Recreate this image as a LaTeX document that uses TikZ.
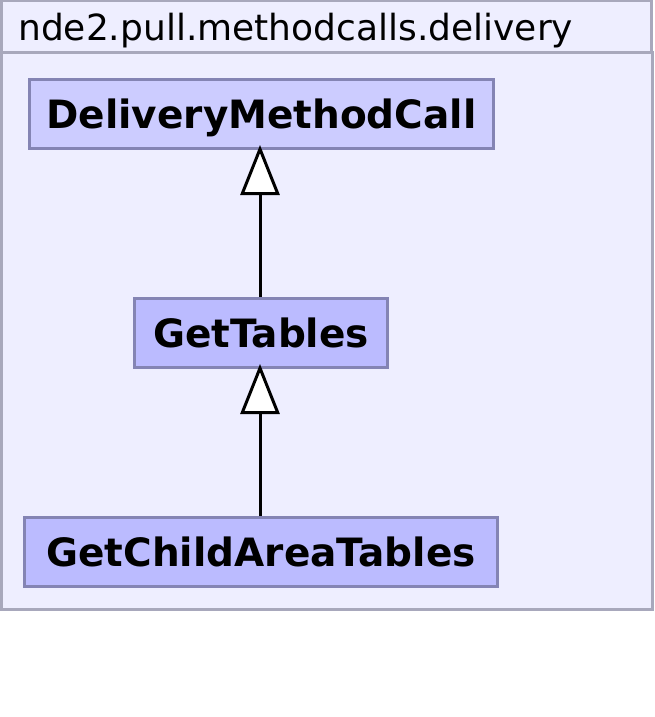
\documentclass[tikz,border=0pt]{standalone}
\usepackage{fontspec}
\setmainfont{DejaVu Sans}
\usetikzlibrary{arrows.meta}
\definecolor{pkgfill}{HTML}{EEEEFF}
\definecolor{pkgline}{HTML}{A8A8BC}
\definecolor{clsfill}{HTML}{BBBBFF}
\definecolor{absfill}{HTML}{CCCCFF}
\definecolor{clsline}{HTML}{8484B4}
\tikzset{
  cls/.style={draw=clsline, line width=3pt, fill=clsfill, inner sep=0pt, anchor=north west,
    text depth=0pt, font=\fontsize{39}{46}\selectfont\bfseries},
  pkg/.style={draw=pkgline, line width=3pt, fill=pkgfill},
  gen/.style={line width=3pt, shorten >=-5pt, -{Triangle[open, length=50pt, width=39pt, line width=3pt, fill=white]}}
}
\begin{document}
\begin{tikzpicture}[x=1pt,y=-1pt]
\useasboundingbox (0,0) rectangle (654,717);
\draw[pkg] (1,1) rectangle (651,53);
\draw[pkg] (1,53) rectangle (652,609);
\node[anchor=base west, inner sep=0pt, font=\fontsize{36}{42}\selectfont] (title) at (18,41) {nde2.pull.methodcalls.delivery};
\node[cls, fill=absfill, minimum width=464pt, minimum height=69pt] (dmc) at (28,78) {DeliveryMethodCall};
\node[cls, minimum width=253pt, minimum height=69pt] (gt) at (133,297) {GetTables};
\node[cls, minimum width=473pt, minimum height=69pt] (gcat) at (23,516) {GetChildAreaTables};
\draw[gen] (gt.north -| 260,0) -- (dmc.south -| 260,0);
\draw[gen] (gcat.north -| 260,0) -- (gt.south -| 260,0);
\end{tikzpicture}
\end{document}
